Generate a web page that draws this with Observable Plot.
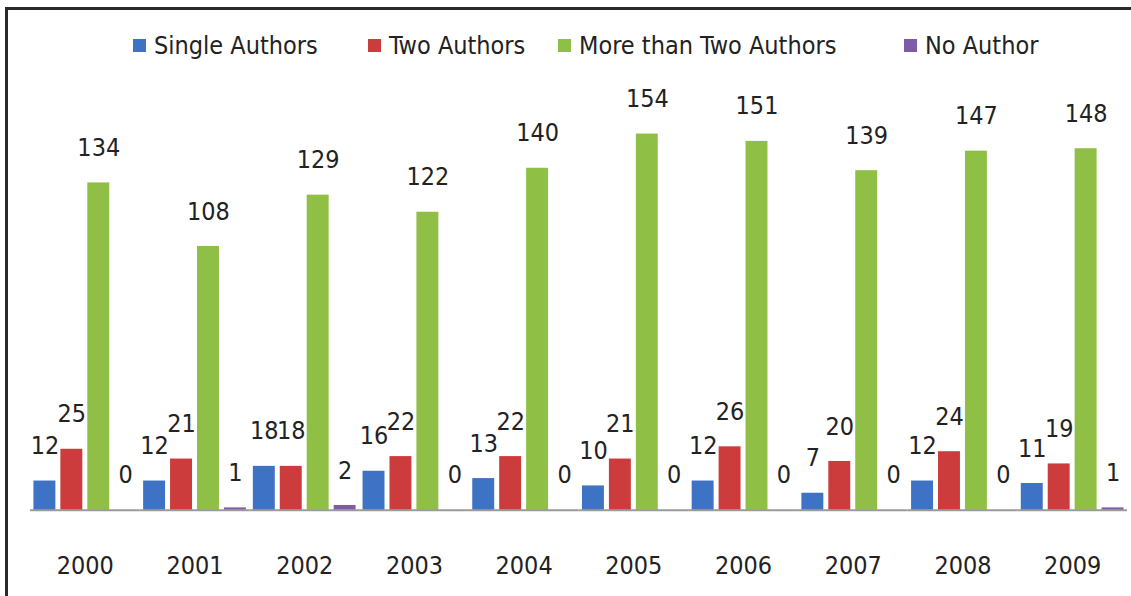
<!DOCTYPE html>
<html>
<head>
<meta charset="utf-8">
<script src="https://cdn.jsdelivr.net/npm/d3@7"></script>
<script src="https://cdn.jsdelivr.net/npm/@observablehq/plot@0.6"></script>
<style>
  html, body { margin: 0; padding: 0; background: #fff; width: 1131px; height: 596px; overflow: hidden; }
  #wrap {
    position: absolute; top: 7px; left: 5px; width: 1126px; height: 589px;
    border-top: 3px solid #2a2a2a; border-left: 3px solid #2a2a2a;
    overflow: hidden; box-sizing: border-box;
  }
  .txt { font-family: "DejaVu Sans Condensed", "Liberation Sans", sans-serif; color: #222; }
  #legend { position: relative; height: 70px; font-size: 25px; }
  .item { position: absolute; top: 0; height: 70px; display: flex; align-items: center; white-space: nowrap; }
  .sw { width: 13px; height: 13px; margin-right: 8px; }
</style>
</head>
<body>
<div id="wrap" class="txt">
  <div id="legend"></div>
  <div id="chart"></div>
</div>
<script>
const years = ["2000","2001","2002","2003","2004","2005","2006","2007","2008","2009"];
const seriesNames = ["Single Authors","Two Authors","More than Two Authors","No Author"];
const singleAuthors = [12,12,18,16,13,10,12,7,12,11];
const twoAuthors = [25,21,18,22,22,21,26,20,24,19];
const moreThanTwo = [134,108,129,122,140,154,151,139,147,148];
const noAuthor = [0,1,2,0,0,0,0,0,0,1];
const colors = ["#3d72c4","#cc3c3c","#8fbf45","#7d5ba6"];
const legendLeft = [125, 360, 550, 896];

const seriesValues = [singleAuthors, twoAuthors, moreThanTwo, noAuthor];
const data = [];
years.forEach((y, i) => {
  seriesNames.forEach((s, j) => data.push({year: y, series: s, value: seriesValues[j][i]}));
});

const legend = document.getElementById("legend");
seriesNames.forEach((s, j) => {
  const it = document.createElement("div");
  it.className = "item";
  it.style.left = legendLeft[j] + "px";
  const sw = document.createElement("div");
  sw.className = "sw";
  sw.style.background = colors[j];
  const t = document.createElement("span");
  t.textContent = s;
  it.appendChild(sw); it.appendChild(t);
  legend.appendChild(it);
});

const chart = Plot.plot({
  width: 1126,
  height: 516,
  marginLeft: 18.5,
  marginRight: 0,
  marginTop: 39,
  marginBottom: 85,
  style: {
    fontFamily: '"DejaVu Sans Condensed", "Liberation Sans", sans-serif',
    fontSize: "25px",
    color: "#222",
    background: "transparent"
  },
  fx: { domain: years, paddingInner: 0, paddingOuter: 0, label: null, tickSize: 0, tickPadding: 46 },
  x: { domain: seriesNames, paddingInner: 0.2, paddingOuter: 0.1127, axis: null },
  y: { domain: [0, 160], axis: null },
  color: { domain: seriesNames, range: colors },
  marks: [
    Plot.barY(data, { fx: "year", x: "series", y: "value", fill: "series" }),
    Plot.ruleY([0], { stroke: "#9a9a9a", strokeWidth: 2 }),
    Plot.text(data, { fx: "year", x: "series", y: "value", text: d => String(d.value), dy: -35, fill: "#222" })
  ]
});
document.getElementById("chart").appendChild(chart);
</script>
</body>
</html>
